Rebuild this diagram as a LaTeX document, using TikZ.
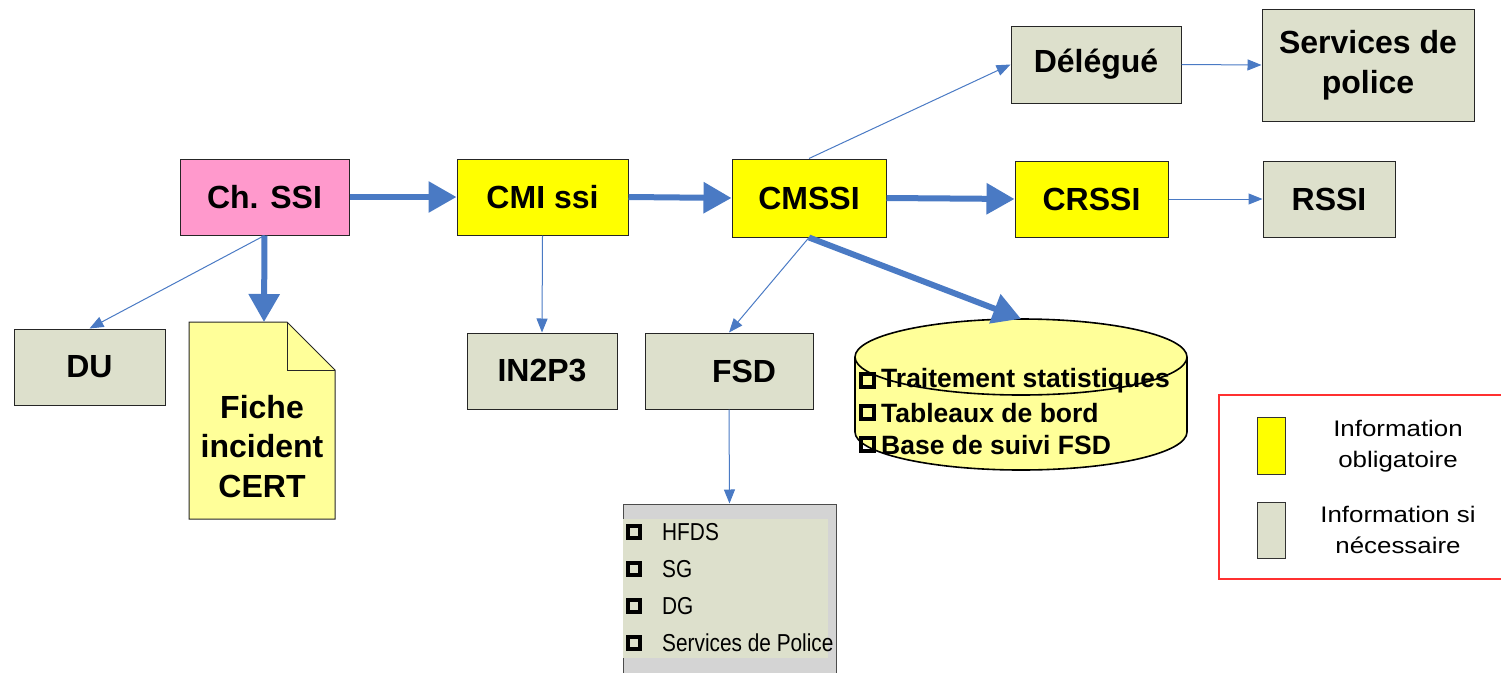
\documentclass[tikz,border=0pt]{standalone}
\usepackage{fontspec}
\setmainfont{Liberation Sans}
\usetikzlibrary{arrows.meta}
\definecolor{pinkbox}{HTML}{FF99CC}
\definecolor{yelbox}{HTML}{FFFF00}
\definecolor{graybox}{HTML}{DDE0CC}
\definecolor{paleyel}{HTML}{FFFF99}
\definecolor{listgray}{HTML}{D4D4D4}
\definecolor{arrblue}{HTML}{4A7AC4}
\definecolor{lgdred}{HTML}{FF3030}
\newcommand{\lgdline}[1]{\scalebox{1.15}[1]{#1}}
\newcommand{\lstline}[1]{\scalebox{0.85}[1]{#1}}
\begin{document}
\begin{tikzpicture}[x=1pt,y=-1pt,
  box/.style={draw=black!85, line width=1pt, inner sep=0pt, align=center,
              font=\fontsize{32}{40}\selectfont\bfseries},
  bigtext/.style={inner sep=0pt, align=center, font=\fontsize{32}{39.5}\selectfont\bfseries},
  dbtext/.style={inner sep=0pt, anchor=west, font=\fontsize{26.5}{32}\selectfont\bfseries},
  lsttext/.style={inner sep=0pt, anchor=west, font=\fontsize{24.5}{30}\selectfont},
  lgdtext/.style={inner sep=0pt, align=center, font=\fontsize{22.5}{31}\selectfont},
  chk/.style={draw=black, line width=3.2pt},
  dbline/.style={draw=black, line width=1.6pt},
  thickarrow/.style={draw=arrblue, line width=6pt, -{Triangle[length=28pt,width=30pt]}},
  thinarrow/.style={draw=arrblue, line width=1pt, -{Triangle[length=14pt,width=11pt]}},
]
\useasboundingbox (0,0) rectangle (1501,672);

% main boxes
\node[box, fill=pinkbox, minimum width=169pt, minimum height=76pt] (chssi) at (264.5,197) {Ch. SSI};
\node[box, fill=yelbox, minimum width=171pt, minimum height=76pt] (cmi) at (542.5,197) {CMI ssi};
\node[box, fill=yelbox, minimum width=154pt, minimum height=78pt] (cmssi) at (809,198) {CMSSI};
\node[box, fill=yelbox, minimum width=153pt, minimum height=76pt] (crssi) at (1091.5,199) {CRSSI};
\node[box, fill=graybox, minimum width=132pt, minimum height=76pt] (rssi) at (1329,199) {RSSI};
\node[box, fill=graybox, minimum width=170pt, minimum height=77pt] (delegue) at (1096,64.5) {Délégué};
\node[box, fill=graybox, minimum width=212pt, minimum height=112pt] (police) at (1368,65) {Services de\\police};
\node[box, fill=graybox, minimum width=151pt, minimum height=76pt] (du) at (89.5,367) {DU};
\node[box, fill=graybox, minimum width=150pt, minimum height=76pt] (in2p3) at (542,371) {IN2P3};
\node[box, fill=graybox, minimum width=168pt, minimum height=76pt] (fsd) at (729,371) {};
\node[bigtext] (fsdtext) at (744,371) {FSD};

% document shape
\draw[fill=paleyel, draw=black!85, line width=1pt] (189,322) -- (287,322) -- (335,370) -- (335,519) -- (189,519) -- cycle;
\draw[draw=black!85, line width=1pt] (287,322) -- (287,370) -- (335,370);
\node[inner sep=0pt, minimum width=146pt, minimum height=197pt] (fiche) at (262,420.5) {};
\coordinate (fichetop) at (264,322);
\node[bigtext] (fichetext) at (262,446.5) {Fiche\\incident\\CERT};

% database cylinder
\node[inner sep=0pt, minimum width=332pt, minimum height=151pt] (db) at (1021,394.5) {};
\fill[paleyel] (855,357) -- (855,432)
  .. controls (855,453) and (929.3,470) .. (1021,470)
  .. controls (1112.7,470) and (1187,453) .. (1187,432)
  -- (1187,357)
  .. controls (1187,336) and (1112.7,319) .. (1021,319)
  .. controls (929.3,319) and (855,336) .. (855,357) -- cycle;
\draw[dbline] (855,357) -- (855,432)
  .. controls (855,453) and (929.3,470) .. (1021,470)
  .. controls (1112.7,470) and (1187,453) .. (1187,432)
  -- (1187,357);
\draw[dbline] (855,357)
  .. controls (855,336) and (929.3,319) .. (1021,319)
  .. controls (1112.7,319) and (1187,336) .. (1187,357)
  .. controls (1187,378) and (1112.7,395) .. (1021,395)
  .. controls (929.3,395) and (855,378) .. (855,357) -- cycle;
\draw[chk] (861,374) rectangle (874,387);
\draw[chk] (861,406) rectangle (874,419);
\draw[chk] (861,438) rectangle (874,451);
\node[dbtext] (db1) at (881,381) {Traitement statistiques};
\node[dbtext] (db2) at (881,413) {Tableaux de bord};
\node[dbtext] (db3) at (881,445) {Base de suivi FSD};

% list box
\node[draw=black!70, line width=1pt, fill=listgray, inner sep=0pt, minimum width=213pt, minimum height=172pt] (list) at (729.5,590) {};
\fill[graybox] (623,519) rectangle (828,658);
\draw[chk] (628,526) rectangle (640,538);
\draw[chk] (628,563) rectangle (640,575);
\draw[chk] (628,600) rectangle (640,612);
\draw[chk] (628,637) rectangle (640,649);
\node[lsttext] (l1) at (662,532) {\lstline{HFDS}};
\node[lsttext] (l2) at (662,569) {\lstline{SG}};
\node[lsttext] (l3) at (662,606) {\lstline{DG}};
\node[lsttext] (l4) at (662,643) {\lstline{Services de Police}};

% legend
\draw[draw=lgdred, line width=1.2pt] (1501,395) -- (1219,395) -- (1219,579) -- (1501,579);
\node[draw=black!80, fill=yelbox, line width=0.8pt, inner sep=0pt, minimum width=28pt, minimum height=57pt] (sw1) at (1271,445.5) {};
\node[draw=black!80, fill=graybox, line width=0.8pt, inner sep=0pt, minimum width=28pt, minimum height=56pt] (sw2) at (1271,530) {};
\node[lgdtext] (lg1) at (1398,446) {\lgdline{Information}\\\lgdline{obligatoire}};
\node[lgdtext] (lg2) at (1398,530) {\lgdline{Information si}\\\lgdline{nécessaire}};

% arrows
\draw[thickarrow] (chssi.east) -- (cmi.west);
\draw[thickarrow] (cmi.east) -- (cmssi.west);
\draw[thickarrow] (cmssi.east) -- (crssi.west);
\draw[thickarrow] (chssi.south) -- (fichetop);
\draw[thickarrow] (cmssi.south) -- (db.north);
\draw[thinarrow] (chssi.south) -- (du.north);
\draw[thinarrow] (cmi.south) -- (in2p3.north);
\draw[thinarrow] (cmssi.south) -- (fsd.north);
\draw[thinarrow] (cmssi.north) -- (delegue.west);
\draw[thinarrow] (delegue.east) -- (police.west);
\draw[thinarrow] (crssi.east) -- (rssi.west);
\draw[thinarrow] (fsd.south) -- (list.north);
\end{tikzpicture}
\end{document}
